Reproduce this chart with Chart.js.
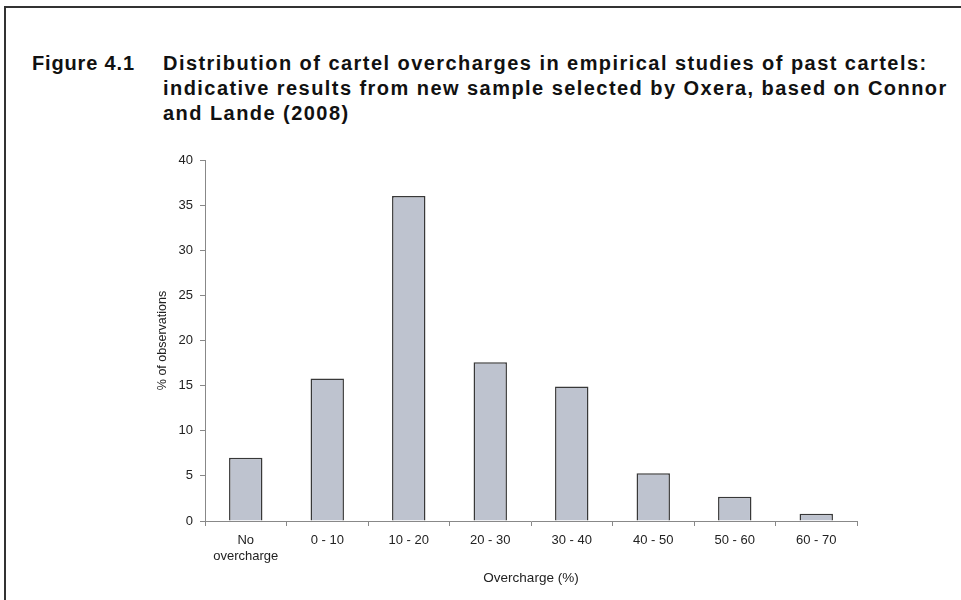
<!DOCTYPE html>
<html>
<head>
<meta charset="utf-8">
<script src="https://cdn.jsdelivr.net/npm/chart.js@4.4.0/dist/chart.umd.min.js"></script>
<style>
html,body{margin:0;padding:0;background:#fff;}
body{width:961px;height:600px;position:relative;overflow:hidden;font-family:"Liberation Sans",Arial,sans-serif;}
#frame{position:absolute;left:4px;top:6px;width:980px;height:620px;border-top:2px solid #333;border-left:2px solid #333;}
.tt{position:absolute;top:51px;font-weight:bold;font-size:20px;line-height:25px;color:#111;white-space:nowrap;}
#fig{left:32px;letter-spacing:0.85px;}
#txt{left:163px;letter-spacing:1.45px;}
#wrap{position:absolute;left:0;top:0;width:961px;height:600px;}
</style>
</head>
<body>
<div id="frame"></div>
<div class="tt" id="fig">Figure 4.1</div>
<div class="tt" id="txt">Distribution of cartel overcharges in empirical studies of past cartels:<br>indicative results from new sample selected by Oxera, based on Connor<br>and Lande (2008)</div>
<div id="wrap"><canvas id="grafico" width="961" height="600"></canvas></div>
<script>
const categorias=[["No","overcharge"],"0 - 10","10 - 20","20 - 30","30 - 40","40 - 50","50 - 60","60 - 70"];
const valores=[7.0,15.8,36.0,17.6,14.9,5.3,2.7,0.8];
const eixoY={min:0,max:40,passo:5};

Chart.defaults.font.family='"Liberation Sans", Arial, sans-serif';
Chart.defaults.color="#222";
let ctx=document.getElementById("grafico");
new Chart(ctx,{
type:"bar",
data:{labels:categorias,datasets:[{data:valores,backgroundColor:"#bec3cf",borderColor:"#383838",borderWidth:1.5,barPercentage:0.41,categoryPercentage:1}]},
options:{
responsive:false,animation:false,
layout:{padding:{top:160,left:152,right:104,bottom:0}},
plugins:{legend:{display:false},tooltip:{enabled:false}},
scales:{
x:{
grid:{drawOnChartArea:false,tickLength:5,color:"#888"},
border:{color:"#888",width:1},
ticks:{font:{size:13},padding:7,maxRotation:0,color:"#222"},
title:{display:true,text:"Overcharge (%)",font:{size:13.5},color:"#222",padding:{top:4,bottom:14}},
afterFit:s=>{s.height=79;}
},
y:{
min:eixoY.min,max:eixoY.max,
grid:{drawOnChartArea:false,tickLength:5,color:"#888"},
border:{color:"#888",width:1},
ticks:{stepSize:eixoY.passo,font:{size:13},padding:7,color:"#222"},
title:{display:true,text:"% of observations",font:{size:12.5},color:"#222",padding:{top:3,bottom:4}},
afterFit:s=>{s.width=53;}
}
}
}
});
</script>
</body>
</html>
